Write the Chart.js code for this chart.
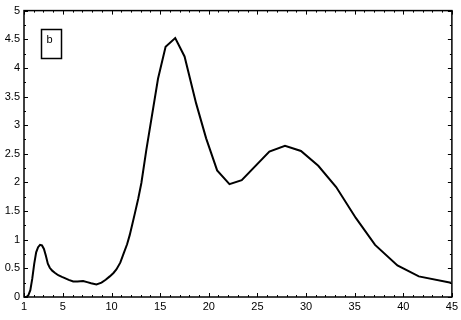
<!DOCTYPE html>
<html>
<head>
<meta charset="utf-8">
<script src="https://cdn.jsdelivr.net/npm/chart.js@4"></script>
<style>
  body { margin: 0; background: #fff; }
</style>
</head>
<body>
<canvas id="grafico" width="461" height="320"></canvas>
<script>
const tamanos = [1, 1.25, 1.45, 1.65, 1.85, 2.05, 2.25, 2.45, 2.65, 2.85, 3.05, 3.25, 3.45, 3.65, 3.9, 4.2, 4.52, 4.9, 5.2, 5.6, 6.06, 6.5, 7.08, 7.5, 7.9, 8.45, 8.97, 9.4, 9.82, 10.2, 10.5, 10.9, 11.25, 11.6, 11.87, 12.15, 12.4, 12.75, 13.07, 13.58, 14.78, 15.56, 16.55, 17.51, 18.7, 19.73, 20.86, 22.13, 23.39, 26.23, 27.84, 29.48, 31.26, 33.1, 35.12, 37.1, 39.4, 41.6, 44.9];
const valores = [0, 0, 0.03, 0.12, 0.32, 0.58, 0.78, 0.87, 0.91, 0.9, 0.84, 0.72, 0.58, 0.51, 0.46, 0.42, 0.38, 0.35, 0.33, 0.3, 0.27, 0.27, 0.28, 0.26, 0.24, 0.22, 0.25, 0.3, 0.36, 0.42, 0.48, 0.6, 0.76, 0.92, 1.08, 1.28, 1.46, 1.72, 1.99, 2.57, 3.81, 4.37, 4.52, 4.2, 3.38, 2.77, 2.21, 1.97, 2.04, 2.54, 2.64, 2.55, 2.29, 1.92, 1.38, 0.91, 0.55, 0.36, 0.25];
const ticksX = [1, 5, 10, 15, 20, 25, 30, 35, 40, 45];
const ticksY = [0, 0.5, 1, 1.5, 2, 2.5, 3, 3.5, 4, 4.5, 5];
const leyenda = 'b';

const fuente = { family: 'Liberation Sans, Arial, sans-serif', size: 11 };

// caja, marcas hacia dentro y leyenda al estilo matlab
const marcoPlugin = {
    id: 'marco',
    afterDraw(chart) {
        const { ctx, chartArea: a, scales: { x, y } } = chart;
        ctx.save();
        ctx.strokeStyle = '#000';
        ctx.lineWidth = 1;
        ctx.beginPath();
        for (let v = 1; v <= 45; v++) {
            const px = Math.round(x.getPixelForValue(v)) + 0.5;
            const largo = ticksX.includes(v) ? 4 : 2;
            ctx.moveTo(px, a.bottom); ctx.lineTo(px, a.bottom - largo);
            ctx.moveTo(px, a.top); ctx.lineTo(px, a.top + largo);
        }
        for (let v = 0; v <= 5; v += 0.25) {
            const py = Math.round(y.getPixelForValue(v)) + 0.5;
            const largo = ticksY.includes(v) ? 4 : 2;
            ctx.moveTo(a.left, py); ctx.lineTo(a.left + largo, py);
            ctx.moveTo(a.right, py); ctx.lineTo(a.right - largo, py);
        }
        ctx.stroke();
        ctx.lineWidth = 1.5;
        ctx.strokeRect(a.left, a.top, a.right - a.left, a.bottom - a.top);
        ctx.strokeRect(41.5, 29.5, 20, 29);
        ctx.fillStyle = '#000';
        ctx.font = '11px ' + fuente.family;
        ctx.textBaseline = 'middle';
        ctx.fillText(leyenda, 46.5, 39.5);
        ctx.restore();
    }
};

new Chart(document.getElementById('grafico'), {
    type: 'line',
    data: {
        datasets: [{
            data: tamanos.map((t, i) => ({ x: t, y: valores[i] })),
            borderColor: '#000',
            borderWidth: 2,
            pointRadius: 0,
            tension: 0,
            fill: false
        }]
    },
    options: {
        responsive: false,
        animation: false,
        layout: { padding: { top: 10, right: 8, left: 0, bottom: 0 } },
        plugins: { legend: { display: false }, tooltip: { enabled: false } },
        scales: {
            x: {
                type: 'linear',
                min: 1,
                max: 45,
                grid: { display: false, drawTicks: false },
                border: { display: false },
                afterBuildTicks: s => { s.ticks = ticksX.map(v => ({ value: v })); },
                afterFit: s => { s.height = 23; },
                ticks: { color: '#000', font: fuente, padding: 3, maxRotation: 0, autoSkip: false, callback: v => String(v) }
            },
            y: {
                min: 0,
                max: 5,
                grid: { display: false, drawTicks: false },
                border: { display: false },
                afterBuildTicks: s => { s.ticks = ticksY.map(v => ({ value: v })); },
                afterFit: s => { s.width = 24; },
                ticks: { color: '#000', font: fuente, padding: 4, autoSkip: false, callback: v => String(v) }
            }
        }
    },
    plugins: [marcoPlugin]
});
</script>
</body>
</html>
